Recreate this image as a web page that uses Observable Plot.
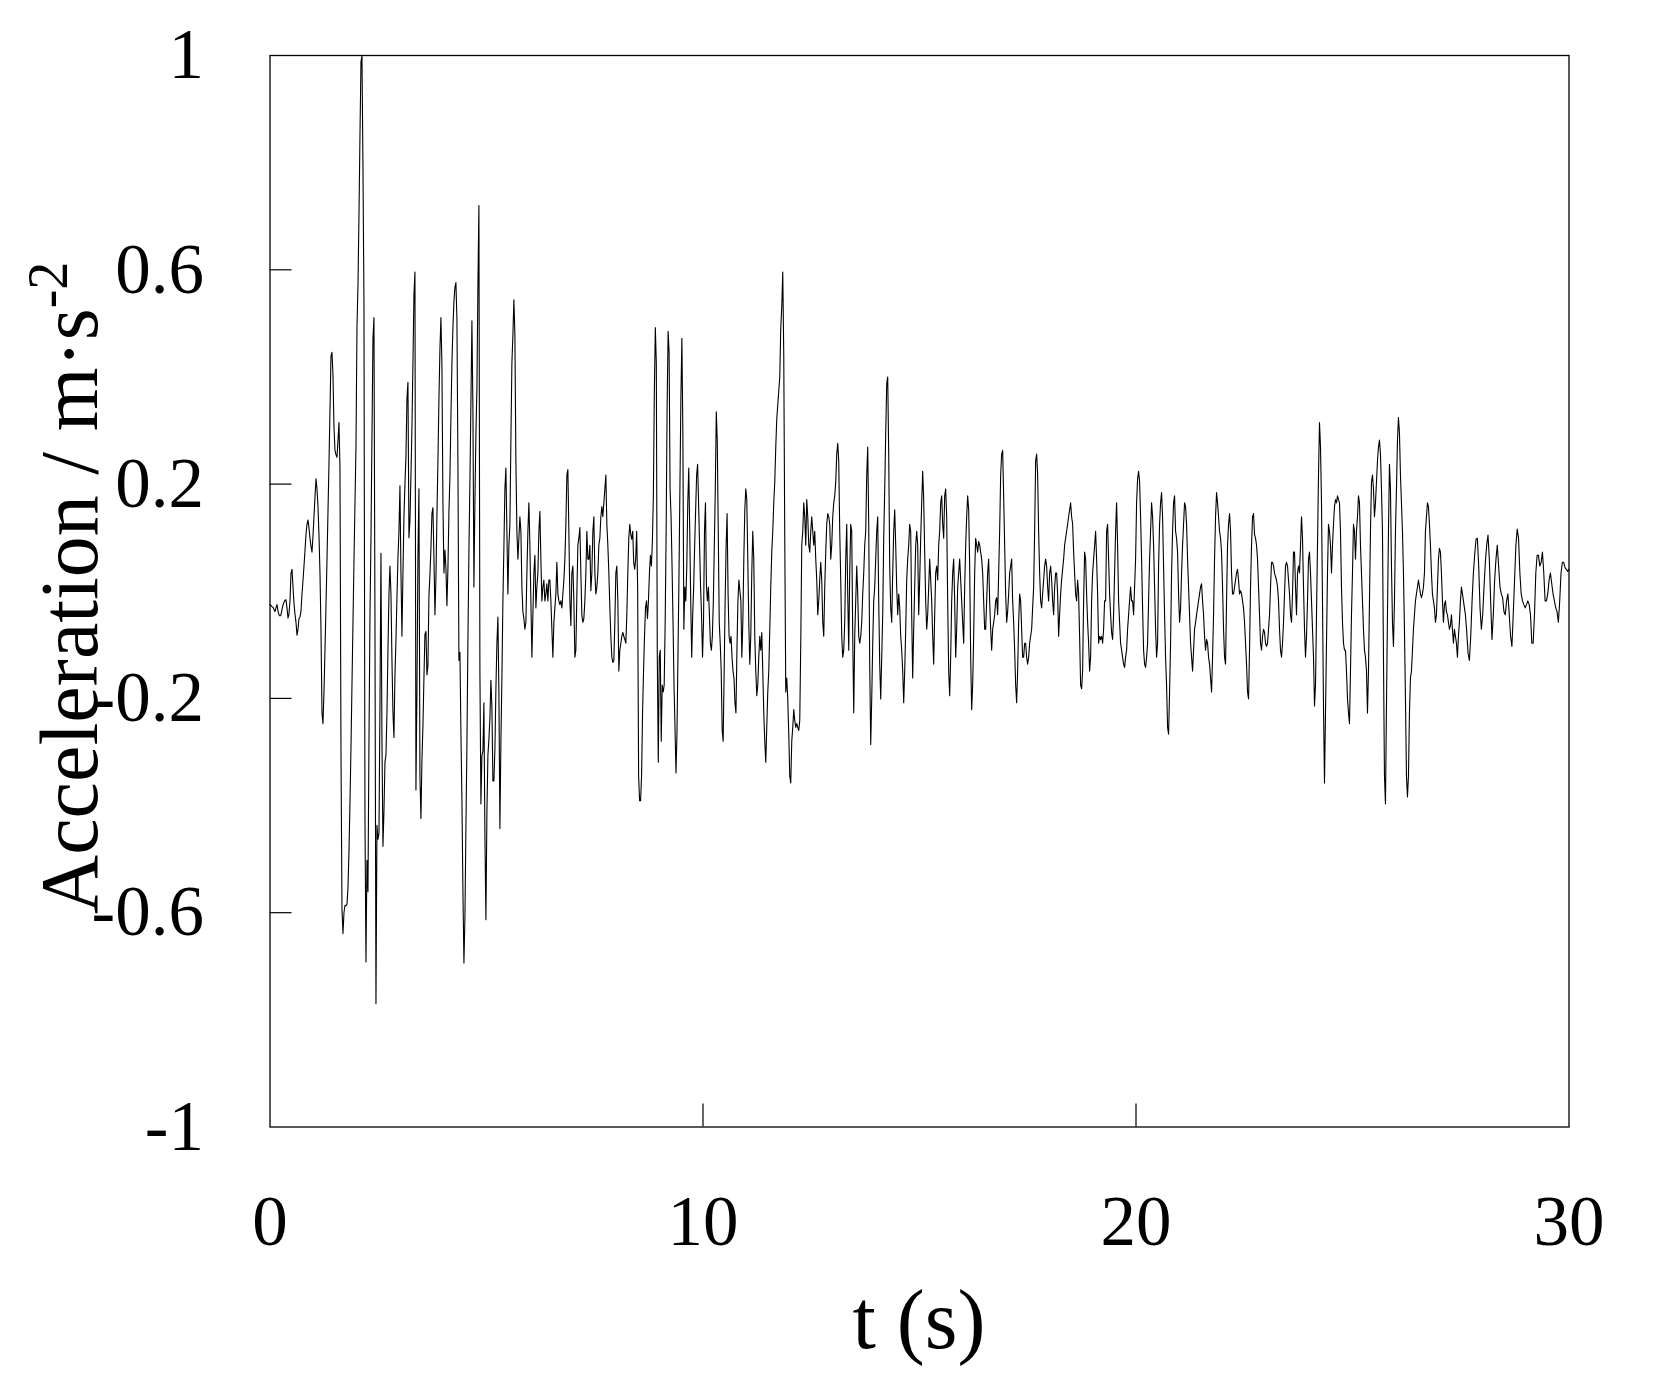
<!DOCTYPE html>
<html><head><meta charset="utf-8">
<script src="https://cdn.jsdelivr.net/npm/d3@7"></script>
<script src="https://cdn.jsdelivr.net/npm/@observablehq/plot@0.6"></script>
<style>html,body{margin:0;padding:0;background:#fff;} svg{display:block}</style>
</head><body><div id="chart"></div>
<script>
// Sample clock: each segment of readings is evenly spaced from its start time to the next start time (s)
const segStart = [0, 2.678, 5.448, 8.218, 10.988, 13.758, 16.528, 19.298, 22.068, 24.838, 27.608, 30];

// Acceleration readings (m/s^2), segment by segment
const seg1 = [-0.025,-0.026,-0.029,-0.030,-0.034,-0.038,-0.031,-0.025,-0.037,-0.044,
-0.046,-0.044,-0.034,-0.026,-0.020,-0.017,-0.016,-0.031,-0.050,-0.042,
-0.018,0.034,0.041,0.008,-0.022,-0.043,-0.058,-0.082,-0.071,-0.051,
-0.048,-0.037,-0.005,0.020,0.047,0.076,0.106,0.125,0.133,0.118,
0.099,0.084,0.073,0.103,0.139,0.176,0.210,0.191,0.159,0.105,
0.034,-0.071,-0.227,-0.247,-0.188,-0.110,-0.027,0.058,0.148,0.239,
0.337,0.439,0.446,0.403,0.306,0.263,0.255,0.250,0.281,0.315,
0.230,-0.293,-0.593,-0.639,-0.600,-0.586,-0.587,-0.584,-0.554,-0.486,
-0.395,-0.293,-0.175,-0.059,0.055,0.163,0.269,0.492,0.570,0.701,
0.851,0.988,1.0,0.792,0.537,-0.424,-0.692,-0.502,-0.561,-0.280,
-0.047,0.099,0.289,0.472,0.511,-0.058,-0.770,-0.437,-0.463,-0.452,
-0.214,0.071,-0.280,-0.476,-0.410,-0.319];

const seg2 = [-0.306,-0.227,-0.110,-0.005,0.047,-0.005,-0.129,-0.227,-0.273,-0.156,
-0.092,-0.012,0.063,0.112,0.197,0.034,-0.084,0.034,0.139,0.200,
0.252,0.360,0.390,0.100,0.132,0.217,0.305,0.426,0.553,0.596,
-0.371,-0.188,0.067,0.191,-0.345,-0.424,-0.315,-0.251,-0.162,-0.080,
-0.075,-0.156,-0.139,-0.009,0.031,0.080,0.145,0.156,0.064,-0.044,
0.025,0.142,0.243,0.358,0.452,0.511,0.420,0.165,0.034,0.077,
0.043,-0.027,0.043,0.148,0.213,0.325,0.426,0.492,0.541,0.567,
0.576,0.508,0.239,-0.129,-0.114,-0.263,-0.388,-0.558,-0.694,-0.610,
-0.441,-0.289,-0.093,0.073,0.204,0.352,0.505,0.339,0.008,0.169,
0.293,0.378,0.570,0.720,-0.149,-0.397,-0.306,-0.299,-0.208,-0.454,
-0.613,-0.414,-0.306,-0.276,-0.237,-0.166,-0.217,-0.354,-0.354,-0.295,
-0.182,-0.097,-0.048,-0.188,-0.443,-0.280,-0.162,-0.018,0.082,0.191];

const seg3 = [0.230,0.112,-0.005,0.086,0.125,0.282,0.426,0.478,0.544,0.478,
0.243,0.112,0.060,0.099,0.139,0.112,0.008,-0.038,-0.051,-0.071,
-0.058,0.034,0.112,0.165,0.086,-0.018,-0.123,-0.044,0.034,0.067,
-0.031,0.008,0.034,0.112,0.149,0.060,-0.018,0.008,0.021,-0.018,
-0.005,0.014,-0.018,0.021,0.021,-0.018,-0.071,-0.123,-0.058,-0.031,
-0.005,0.054,-0.005,-0.018,-0.025,-0.018,-0.031,-0.005,0.021,0.060,
0.125,0.217,0.227,0.112,-0.018,-0.064,0.034,0.047,-0.018,-0.123,
-0.110,-0.005,0.086,0.099,0.119,0.034,-0.044,-0.058,-0.051,-0.018,
0.034,0.112,0.060,0.060,0.086,0.001,0.034,0.112,0.139,0.034,
-0.005,0.008,0.034,0.086,0.099,0.139,0.158,0.139,0.165,0.191,
0.217,0.125,0.086,0.034,-0.031,-0.084,-0.123,-0.133,-0.129,-0.058,
0.034,0.047,-0.018,-0.149,-0.110,-0.097,-0.084,-0.077,-0.084,-0.090];

const seg4 = [-0.097,-0.044,0.034,0.099,0.125,0.106,0.097,0.112,0.054,0.041,
0.060,0.112,0.008,-0.345,-0.391,-0.391,-0.345,-0.227,-0.149,-0.084,
-0.031,-0.018,-0.051,-0.018,0.034,0.067,0.047,0.093,0.178,0.374,
0.492,0.426,-0.123,-0.319,-0.123,-0.110,-0.280,-0.175,-0.188,-0.175,
-0.058,0.112,0.348,0.485,0.446,0.191,0.139,0.047,-0.058,-0.175,
-0.254,-0.339,-0.267,-0.123,0.021,0.191,0.361,0.472,0.295,-0.071,
0.008,-0.018,0.047,0.165,0.230,0.112,-0.018,-0.123,-0.044,0.008,
0.086,0.152,0.217,0.237,0.165,0.086,0.008,-0.044,-0.123,-0.058,
0.112,0.165,0.008,-0.018,0.008,-0.044,-0.097,-0.110,-0.084,-0.018,
0.086,0.191,0.335,0.282,0.112,-0.058,-0.097,-0.149,-0.260,-0.280,
-0.149,-0.018,0.086,0.145,-0.005,-0.084,-0.097,-0.084,-0.123,-0.149,
-0.162,-0.208,-0.227,-0.110,-0.018,0.021,0.001,-0.018,-0.123,-0.058,
0.060,0.152];

const seg5 = [0.191,0.171,0.060,-0.058,-0.136,-0.084,0.034,0.112,0.060,-0.084,
-0.149,-0.195,-0.175,-0.123,-0.084,-0.110,-0.077,-0.149,-0.227,-0.280,
-0.319,-0.254,-0.188,-0.149,-0.071,0.008,0.073,0.112,0.165,0.204,
0.269,0.322,0.348,0.374,0.400,0.492,0.531,0.596,0.439,0.099,
-0.188,-0.162,-0.201,-0.267,-0.345,-0.358,-0.280,-0.254,-0.221,-0.241,
-0.254,-0.247,-0.254,-0.260,-0.241,-0.097,0.086,0.112,0.165,0.139,
0.086,0.171,0.139,0.086,0.073,0.112,0.139,0.112,0.086,0.112,
0.060,0.021,-0.044,-0.018,0.021,0.054,0.021,-0.058,-0.084,0.008,
0.073,0.125,0.145,0.139,0.125,0.060,0.086,0.139,0.165,0.178,
0.204,0.256,0.276,0.243,0.112,0.021,-0.084,-0.123,-0.110,-0.058,
0.060,0.125,-0.005,-0.110,0.034,0.125,0.112,-0.084,-0.227,-0.084,
-0.018,0.047,-0.005,-0.084,-0.097,-0.084,-0.058,-0.005,0.034,0.086];

const seg6 = [0.112,0.217,0.269,0.125,-0.136,-0.286,-0.201,-0.097,-0.018,0.008,
0.060,0.112,0.139,-0.018,-0.136,-0.201,-0.123,-0.044,0.099,0.191,
0.295,0.387,0.400,0.256,0.047,-0.031,-0.058,0.034,0.112,0.152,
0.086,0.008,-0.044,-0.005,-0.031,-0.084,-0.110,-0.149,-0.208,-0.149,
-0.071,0.021,0.060,0.086,0.125,0.112,-0.044,-0.162,-0.071,0.008,
0.086,0.112,0.086,-0.044,0.021,0.099,0.165,0.224,0.171,0.073,
-0.018,-0.071,-0.044,0.008,0.060,0.021,-0.018,-0.084,-0.136,-0.044,
0.034,0.047,0.021,0.086,0.112,0.165,0.178,0.125,0.099,0.178,
0.191,0.139,-0.018,-0.149,-0.195,-0.123,-0.018,0.034,0.060,-0.018,
-0.123,-0.071,0.008,0.034,0.060,0.021,-0.018,-0.058,-0.097,0.008,
0.086,0.139,0.178,0.152,0.047,-0.123,-0.221,-0.175,-0.084,0.034,
0.099,0.086,0.073,0.093,0.086,0.073,0.060,0.034,-0.018,-0.071];

const seg7 = [-0.071,-0.018,0.034,0.060,-0.018,-0.071,-0.110,-0.071,-0.058,-0.044,
-0.018,-0.012,-0.044,0.034,0.112,0.217,0.256,0.263,0.178,0.086,
-0.005,-0.058,-0.038,-0.005,0.034,0.047,0.060,-0.018,-0.058,-0.110,
-0.175,-0.208,-0.149,-0.058,-0.005,-0.018,-0.071,-0.123,-0.123,-0.097,
-0.097,-0.123,-0.136,-0.123,-0.097,-0.084,-0.071,-0.031,0.008,0.112,
0.243,0.256,0.217,0.112,0.034,-0.018,-0.031,-0.005,0.021,0.047,
0.060,0.047,0.008,-0.018,0.034,0.047,0.021,-0.018,-0.044,0.008,
0.034,0.034,-0.005,-0.084,-0.044,-0.005,0.021,0.041,0.060,0.086,
0.099,0.112,0.125,0.139,0.152,0.165,0.139,0.125,0.073,0.034,
-0.005,-0.018,0.021,-0.005,-0.084,-0.175,-0.182,-0.149,-0.018,0.073,
0.060,-0.005,-0.058,-0.097,-0.149,-0.123,-0.018,0.034,0.060,0.086,
0.112,0.060,-0.005,-0.097,-0.084,-0.090,-0.084,-0.097,-0.071,-0.018];

const seg8 = [-0.018,0.112,0.125,0.060,-0.005,-0.044,-0.077,-0.090,-0.044,0.034,
0.112,0.165,0.086,-0.018,-0.058,-0.097,-0.110,-0.123,-0.136,-0.142,
-0.123,-0.110,-0.071,-0.044,-0.018,0.008,-0.018,-0.018,-0.044,0.008,
0.060,0.165,0.210,0.224,0.204,0.139,0.060,-0.031,-0.110,-0.136,
-0.142,-0.123,-0.097,-0.018,0.060,0.112,0.165,0.139,0.086,0.008,
-0.071,-0.123,-0.097,0.047,0.125,0.165,0.184,0.139,0.047,-0.044,
-0.123,-0.175,-0.254,-0.267,-0.188,-0.097,0.034,0.112,0.165,0.178,
0.112,0.099,0.073,-0.005,-0.058,-0.031,0.034,0.086,0.125,0.165,
0.158,0.125,0.060,0.008,-0.044,-0.097,-0.123,-0.149,-0.110,-0.071,
-0.058,-0.044,-0.031,-0.018,-0.005,0.008,0.014,-0.018,-0.044,-0.084,
-0.110,-0.090,-0.097,-0.123,-0.136,-0.162,-0.188,-0.123,-0.044,0.060,
0.139,0.184,0.165,0.139,0.112,0.099,0.073,0.008,-0.071,-0.123];

const seg9 = [-0.136,-0.018,0.086,0.125,0.145,0.112,0.034,-0.005,-0.005,0.008,
0.021,0.034,0.041,0.021,-0.005,0.001,-0.005,-0.018,-0.031,-0.058,
-0.097,-0.136,-0.188,-0.201,-0.110,0.008,0.086,0.139,0.145,0.106,
0.099,0.086,0.060,0.008,-0.044,-0.097,-0.110,-0.084,-0.071,-0.077,
-0.097,-0.103,-0.097,-0.071,-0.044,0.008,0.054,0.054,0.047,0.034,
0.027,0.021,0.008,-0.018,-0.071,-0.110,-0.123,-0.097,-0.058,-0.005,
0.047,0.054,0.047,0.021,-0.005,-0.044,-0.058,-0.005,0.073,0.073,
0.008,-0.044,0.034,0.047,0.034,0.086,0.139,0.099,0.008,-0.071,
-0.123,-0.084,-0.018,0.060,0.073,0.034,-0.018,-0.071,-0.123,-0.214,
-0.175,-0.044,0.086,0.217,0.315,0.269,0.165,-0.018,-0.214,-0.358,
-0.227,-0.097,0.034,0.125,0.112,0.086,0.034,0.086,0.125,0.158,
0.171,0.165,0.178,0.171,0.165,0.112,0.008,-0.058,-0.097,-0.110];

const seg10 = [-0.110,-0.149,-0.201,-0.227,-0.247,-0.149,-0.044,0.034,0.125,0.112,
0.060,0.112,0.139,0.178,0.165,0.086,0.034,-0.018,-0.071,-0.110,
-0.123,-0.149,-0.227,-0.149,-0.018,0.112,0.204,0.217,0.191,0.139,
0.165,0.204,0.243,0.269,0.282,0.256,0.191,0.112,-0.123,-0.345,
-0.397,-0.214,-0.044,0.112,0.237,0.191,0.047,-0.058,-0.103,-0.018,
0.112,0.191,0.282,0.324,0.295,0.217,0.165,0.112,0.034,-0.071,
-0.201,-0.345,-0.384,-0.345,-0.227,-0.162,-0.149,-0.110,-0.071,-0.044,
-0.018,-0.005,0.008,0.021,0.008,-0.005,-0.012,-0.005,0.008,0.034,
0.112,0.139,0.165,0.158,0.125,0.086,0.034,-0.005,-0.018,-0.031,
-0.058,-0.044,0.008,0.060,0.080,0.073,0.034,-0.018,-0.058,-0.025,
-0.018,-0.038,-0.044,-0.058,-0.071,-0.064,-0.044,-0.071,-0.097,-0.071,
-0.084,-0.097,-0.123,-0.084,-0.058,-0.018,0.008,-0.005,-0.018,-0.031];

const seg11 = [-0.044,-0.077,-0.116,-0.129,-0.084,-0.018,0.034,0.069,0.097,0.099,
0.047,-0.031,-0.071,-0.044,0.008,0.054,0.086,0.105,0.060,-0.018,
-0.090,-0.044,0.021,0.060,0.086,0.047,0.008,-0.005,-0.012,-0.038,
-0.044,-0.018,-0.005,-0.044,-0.084,-0.103,-0.044,0.021,0.086,0.116,
0.099,0.034,-0.005,-0.018,-0.025,-0.031,-0.025,-0.018,-0.025,-0.044,
-0.097,-0.097,-0.044,0.034,0.067,0.067,0.047,0.054,0.073,0.034,
-0.018,-0.018,-0.005,0.021,0.034,0.014,-0.005,-0.018,-0.031,-0.038,
-0.058,-0.018,0.034,0.054,0.054,0.044,0.041,0.037,0.041];

// Axis ticks and labels
const xTickLabels = [0, 10, 20, 30];
const yTickLabels = [1, 0.6, 0.2, -0.2, -0.6, -1];
const xInnerTicks = [10, 20];
const yInnerTicks = [0.6, 0.2, -0.2, -0.6];
const xLabel = "t (s)";
const yLabel = "Acceleration / m·s";
const yLabelSup = "-2";

// Build the table
const segments = [seg1, seg2, seg3, seg4, seg5, seg6, seg7, seg8, seg9, seg10, seg11];
const data = [];
segments.forEach((vals, k) => {
  const s = segStart[k], e = segStart[k + 1];
  const last = k === segments.length - 1;
  const n = vals.length;
  const step = (e - s) / (last ? n - 1 : n);
  vals.forEach((v, i) => data.push({t: s + i * step, a: v}));
});

const W = 1654, H = 1397;
const mL = 269.5, mR = 85.5, mT = 55, mB = 270.5;
const FONT = "'Liberation Serif', 'Times New Roman', Times, serif";

const chart = Plot.plot({
  width: W, height: H,
  marginLeft: mL, marginRight: mR, marginTop: mT, marginBottom: mB,
  x: {domain: [0, 30]},
  y: {domain: [-1, 1]},
  style: {fontFamily: FONT, fontSize: "70px", color: "black", background: "white"},
  marks: [
    Plot.line(data, {x: "t", y: "a", stroke: "black", strokeWidth: 1.1}),
    Plot.axisX({ticks: xInnerTicks, tickSize: -23, tickFormat: () => "", label: null, strokeWidth: 1.2}),
    Plot.axisY({ticks: yInnerTicks, tickSize: -22, tickFormat: () => "", label: null, strokeWidth: 1.2}),
    Plot.axisX({ticks: xTickLabels, tickSize: 0, tickPadding: 68, tickFormat: d => String(d), label: null, fontSize: 71}),
    Plot.axisY({ticks: yTickLabels, tickSize: 0, tickPadding: 66, tickFormat: d => String(d), label: null, fontSize: 71}),
    Plot.frame({stroke: "black", strokeWidth: 1.3})
  ]
});

document.getElementById("chart").appendChild(chart);

const svg = d3.select(chart);
svg.append("text")
  .attr("x", (mL + W - mR) / 2)
  .attr("y", 1348)
  .attr("text-anchor", "middle")
  .attr("font-family", FONT)
  .attr("font-size", 84)
  .attr("fill", "black")
  .text(xLabel);

const yl = svg.append("text")
  .attr("transform", "translate(97,914) rotate(-90)")
  .attr("text-anchor", "start")
  .attr("font-family", FONT)
  .attr("font-size", 82)
  .attr("fill", "black");
yl.append("tspan").text(yLabel);
yl.append("tspan").attr("dy", -30).attr("font-size", 56).text(yLabelSup);
</script>
</body></html>
